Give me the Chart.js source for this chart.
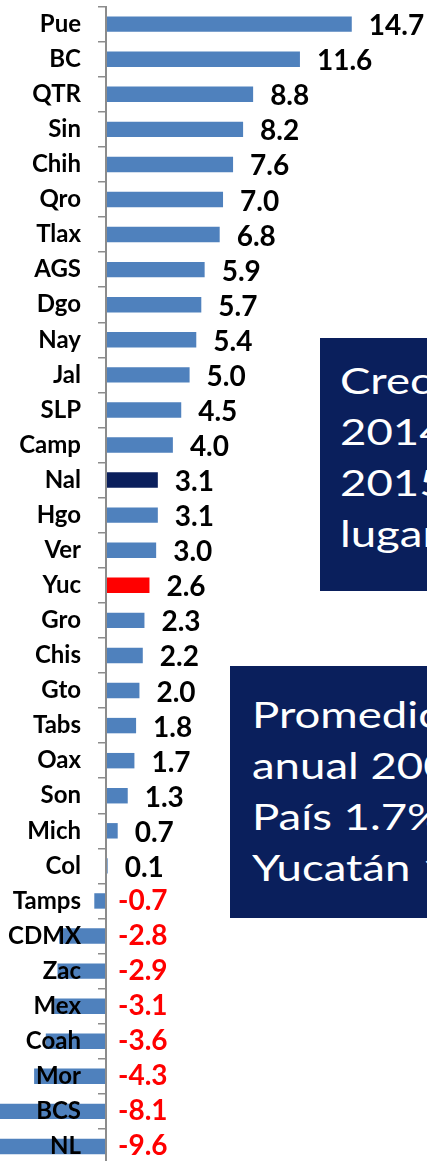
<!DOCTYPE html>
<html>
<head>
<meta charset="utf-8">
<script src="https://cdn.jsdelivr.net/npm/chart.js@4/dist/chart.umd.min.js"></script>
<style>
  html, body { margin: 0; padding: 0; background: #fff; overflow: hidden; width: 427px; height: 1161px; }
  #wrap { position: absolute; left: 0; top: 0; width: 427px; height: 1164px; }
  .box { position: absolute; background: #0a1f5c; color: #fff; font-family: Lato, "Open Sans", sans-serif;
         font-size: 37px; line-height: 51px; white-space: nowrap; overflow: hidden; box-sizing: border-box; }
  .box span { display: inline-block; transform: scaleX(1.23); transform-origin: left top; }
  #box1 { left: 320px; top: 338px; width: 220px; height: 253px; padding: 16px 0 0 20px; }
  #box2 { left: 230px; top: 666px; width: 300px; height: 252px; padding: 22px 0 0 22px; }
</style>
</head>
<body>
<div id="wrap"><canvas id="myChart"></canvas></div>
<div class="box" id="box1"><span>Crecimiento<br>2014-<br>2015<br>lugar</span></div>
<div class="box" id="box2"><span>Promedio<br>anual 2000-2015<br>País 1.7%<br>Yucatán 1.5%</span></div>
<script>
// estados y crecimiento (%)
var estados = ['Pue', 'BC', 'QTR', 'Sin', 'Chih', 'Qro', 'Tlax', 'AGS', 'Dgo', 'Nay', 'Jal', 'SLP', 'Camp',
  'Nal', 'Hgo', 'Ver', 'Yuc', 'Gro', 'Chis', 'Gto', 'Tabs', 'Oax', 'Son', 'Mich', 'Col', 'Tamps',
  'CDMX', 'Zac', 'Mex', 'Coah', 'Mor', 'BCS', 'NL'];
var crecimiento = [14.7, 11.6, 8.8, 8.2, 7.6, 7.0, 6.8, 5.9, 5.7, 5.4, 5.0, 4.5, 4.0,
  3.1, 3.1, 3.0, 2.6, 2.3, 2.2, 2.0, 1.8, 1.7, 1.3, 0.7, 0.1, -0.7,
  -2.8, -2.9, -3.1, -3.6, -4.3, -8.1, -9.6];

// colores: nacional azul oscuro, Yucatan rojo
var colores = estados.map(function (e) {
  if (e === 'Nal') return '#0a1f5c';
  if (e === 'Yuc') return '#ff0000';
  return '#4f81bd';
});

// etiquetas de valor
var etiquetas = {
  id: 'etiquetas',
  afterDatasetsDraw: function (chart) {
    var c = chart.ctx;
    var meta = chart.getDatasetMeta(0);
    var x0 = chart.scales.x.getPixelForValue(0);
    c.save();
    c.font = 'bold 28px Lato, sans-serif';
    c.textBaseline = 'middle';
    c.textAlign = 'left';
    meta.data.forEach(function (bar, i) {
      var v = crecimiento[i];
      if (v >= 0) {
        c.fillStyle = '#000';
        c.fillText(v.toFixed(1), bar.x + 17, bar.y + 2);
      } else {
        c.fillStyle = '#ff0000';
        c.fillText(v.toFixed(1), x0 + 12, bar.y);
      }
    });
    c.restore();
  }
};

var ctx = document.getElementById('myChart').getContext('2d');
var myChart = new Chart(ctx, {
  type: 'bar',
  data: {
    labels: estados,
    datasets: [{
      data: crecimiento,
      backgroundColor: colores,
      borderWidth: 0,
      barPercentage: 0.44,
      categoryPercentage: 1,
      clip: false
    }]
  },
  options: {
    indexAxis: 'y',
    responsive: true,
    maintainAspectRatio: false,
    animation: false,
    layout: { padding: { top: 6.6, bottom: 0, left: 0, right: 0 } },
    plugins: { legend: { display: false }, tooltip: { enabled: false } },
    scales: {
      x: { display: false, min: 0, max: 19.2 },
      y: {
        position: 'left',
        afterFit: function (scale) {
          scale.width = 106;
          scale.paddingTop = 0;
          scale.paddingBottom = 0;
        },
        grid: { drawOnChartArea: false, drawTicks: true, tickLength: 8, color: '#8c8c8c', lineWidth: 1.5, z: 1 },
        border: { display: true, color: '#8c8c8c', width: 2, z: 1 },
        ticks: { color: '#000', padding: 17, z: 1, autoSkip: false, font: { family: 'Lato', weight: 'bold', size: 24 } }
      }
    }
  },
  plugins: [etiquetas]
});
</script>
</body>
</html>
